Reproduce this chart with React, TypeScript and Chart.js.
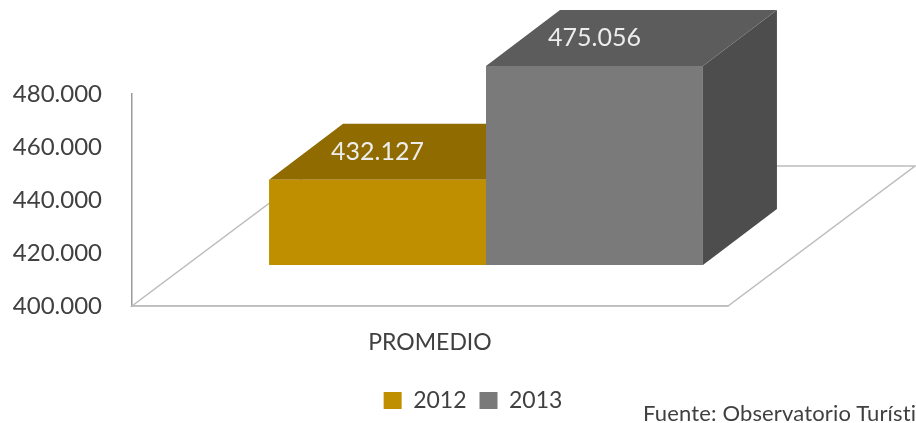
import React, { useEffect, useRef } from "react";
import { Chart, registerables } from "chart.js";

Chart.register(...registerables);

const categories = ["PROMEDIO"];
const seriesNames = ["2012", "2013"];
const values2012 = [432127];
const values2013 = [475056];
const frontColors = ["#BF8F00", "#7A7A7A"];
const topColors = ["#8F6B00", "#5C5C5C"];
const sideColors = ["#6B5000", "#4D4D4D"];
const yTicks = [400000, 420000, 440000, 460000, 480000];

const FONT = "Lato, 'Open Sans', sans-serif";
const TEXT = "#404040";
const fmt = (v: number) => v.toString().replace(/\B(?=(\d{3})+$)/g, ".");

// 3D projection offsets
const BAR_SHIFT = { x: 56, y: -41 };
const BAR_DEPTH = { x: 74, y: -56 };
const FLOOR_DEPTH = { x: 187, y: -140 };

const poly = (ctx: CanvasRenderingContext2D, pts: number[][], fill: string | null, stroke?: string) => {
  ctx.beginPath();
  pts.forEach(([x, y], i) => (i ? ctx.lineTo(x, y) : ctx.moveTo(x, y)));
  ctx.closePath();
  if (fill) {
    ctx.fillStyle = fill;
    ctx.fill();
  }
  if (stroke) {
    ctx.strokeStyle = stroke;
    ctx.lineWidth = 1.5;
    ctx.stroke();
  }
};

const threeD = {
  id: "threeD",
  afterLayout(chart: any) {
    const legend = chart.legend;
    if (legend) {
      legend.left = 340;
      legend.right = 606;
      legend.top = 376;
      legend.bottom = 420;
    }
  },
  beforeDatasetsDraw(chart: any) {
    const { ctx, chartArea: a } = chart;
    ctx.save();
    poly(
      ctx,
      [
        [a.left, a.bottom],
        [a.right, a.bottom],
        [a.right + FLOOR_DEPTH.x, a.bottom + FLOOR_DEPTH.y],
        [a.left + FLOOR_DEPTH.x, a.bottom + FLOOR_DEPTH.y],
      ],
      null,
      "#BDBDBD"
    );
    chart.data.datasets.forEach((_: any, i: number) => {
      chart.getDatasetMeta(i).data.forEach((bar: any) => {
        const p = bar.getProps(["x", "y", "base", "width"]);
        const l = p.x - p.width / 2 + BAR_SHIFT.x;
        const r = p.x + p.width / 2 + BAR_SHIFT.x;
        const t = p.y + BAR_SHIFT.y;
        const b = p.base + BAR_SHIFT.y;
        const d = BAR_DEPTH;
        poly(ctx, [[r, t], [r + d.x, t + d.y], [r + d.x, b + d.y], [r, b]], sideColors[i]);
        poly(ctx, [[l, t], [l + d.x, t + d.y], [r + d.x, t + d.y], [r, t]], topColors[i]);
      });
    });
    ctx.translate(BAR_SHIFT.x, BAR_SHIFT.y);
  },
  afterDatasetsDraw(chart: any) {
    const { ctx } = chart;
    ctx.restore();
    ctx.save();
    ctx.font = `25px ${FONT}`;
    ctx.fillStyle = "#EDEDED";
    ctx.textAlign = "center";
    ctx.textBaseline = "middle";
    chart.data.datasets.forEach((ds: any, i: number) => {
      chart.getDatasetMeta(i).data.forEach((bar: any, j: number) => {
        const p = bar.getProps(["x", "y"]);
        ctx.fillText(fmt(ds.data[j]), p.x + BAR_SHIFT.x, p.y + BAR_SHIFT.y + BAR_DEPTH.y / 2);
      });
    });
    ctx.restore();
  },
};

export default function App() {
  const ref = useRef<HTMLCanvasElement>(null);
  useEffect(() => {
    document.body.style.margin = "0";
    const chart = new Chart(ref.current!, {
      type: "bar",
      data: {
        labels: categories,
        datasets: [
          { label: seriesNames[0], data: values2012, base: yTicks[0], backgroundColor: frontColors[0] },
          { label: seriesNames[1], data: values2013, base: yTicks[0], backgroundColor: frontColors[1] },
        ],
      },
      plugins: [threeD],
      options: {
        animation: false,
        responsive: false,
        categoryPercentage: 0.728,
        barPercentage: 1,
        layout: { padding: { left: 0, top: 94, right: 188, bottom: 0 } },
        scales: {
          x: {
            grid: { display: false },
            border: { color: "#BDBDBD", width: 1.5 },
            ticks: { color: TEXT, font: { family: FONT, size: 23 }, padding: 15 },
            afterFit: (s: any) => { s.height = 71; },
          },
          y: {
            min: 400000,
            max: 480000,
            grid: { display: false, drawTicks: false },
            border: { color: "#9A9A9A", width: 1.5 },
            afterBuildTicks: (s: any) => { s.ticks = yTicks.map((value) => ({ value })); },
            ticks: {
              color: TEXT,
              font: { family: FONT, size: 24 },
              padding: 30,
              callback: (v: any) => fmt(Number(v)),
            },
            afterFit: (s: any) => { s.width = 132; },
          },
        },
        plugins: {
          tooltip: { enabled: false },
          title: { display: false },
          legend: {
            display: true,
            position: "bottom",
            labels: {
              boxWidth: 18,
              boxHeight: 17,
              padding: 13,
              color: TEXT,
              font: { family: FONT, size: 23 },
            },
          },
        },
      } as any,
    });
    return () => chart.destroy();
  }, []);
  return (
    <div style={{ position: "relative", width: 916, height: 423, overflow: "hidden", background: "#fff" }}>
      <canvas ref={ref} width={916} height={423} style={{ display: "block" }} />
      <span
        style={{
          position: "absolute",
          left: 643,
          top: 399,
          whiteSpace: "nowrap",
          letterSpacing: 0.15,
          font: `22px ${FONT}`,
          color: TEXT,
        }}
      >
        Fuente: Observatorio Turístico
      </span>
    </div>
  );
}
